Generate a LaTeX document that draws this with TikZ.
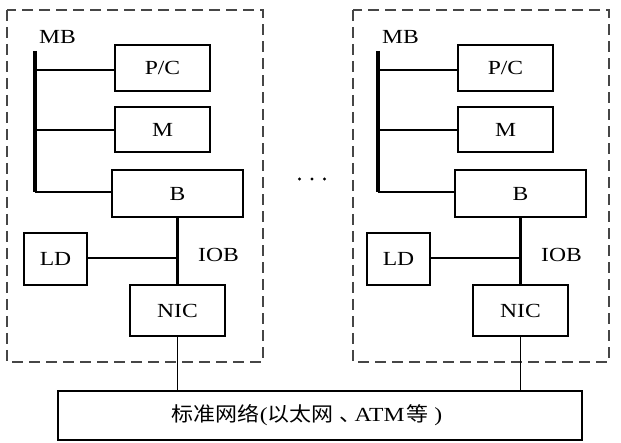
\documentclass[tikz,border=0pt]{standalone}
\usepackage{fontspec}
\setmainfont[FakeStretch=1.18]{Liberation Serif}
\newfontfamily\cjk[FakeStretch=1.1]{Noto Sans CJK SC}
\usepackage{xcolor}
\usetikzlibrary{positioning}
\definecolor{fr}{RGB}{70,70,70}

\begin{document}
\begin{tikzpicture}[x=1pt, y=-1pt,
    every node/.style={font=\fontsize{20}{24}\selectfont},
    blok/.style={draw, line width=1.6pt, inner sep=0pt, minimum height=46pt},
    bus/.style={line width=3.6pt},
    verb/.style={line width=1.5pt},
    kader/.style={draw=fr, line width=1.4pt, dash pattern=on 11pt off 6pt}]
    \useasboundingbox (0,0) rectangle (621,443);
    % twee knooppunten
    \foreach \k/\dx/\fx in {1/0/0, 2/343/346} {
        % kader
        \draw[kader] (7+\fx,10) rectangle (263+\fx,362);
        % kaarten
        \node[blok, minimum width=95pt] (pc\k) at (162.5+\dx,68) {P/C};
        \node[blok, minimum width=95pt, minimum height=45pt] (m\k) at (162.5+\dx,129.5) {M};
        \node[blok, minimum width=131pt, minimum height=47pt] (b\k) at (177.5+\dx,193.5) {B};
        \node[blok, minimum width=63pt, minimum height=52pt] (ld\k) at (55.5+\dx,259) {LD};
        \node[blok, minimum width=95pt, minimum height=51pt] (nic\k) at (177.5+\dx,310.5) {NIC};
        % geheugenbus
        \coordinate (mbt\k) at (35+\dx,51);
        \coordinate (mbb\k) at (35+\dx,192);
        \node[anchor=west, inner sep=0pt] (mb\k) at (39+\dx,37) {MB};
        \draw[bus] (mbt\k) -- (mbb\k);
        \draw[verb] (mbt\k |- 0,70) -- (pc\k.west |- 0,70);
        \draw[verb] (mbt\k |- 0,130) -- (m\k.west |- 0,130);
        \draw[verb] (mbb\k) -- (mbb\k -| b\k.west);
        % io-bus
        \draw[bus] (b\k.south) -- (nic\k.north);
        \node[anchor=west, inner sep=0pt] (iob\k) at (198+\dx,255) {IOB};
        \draw[verb] (ld\k.east |- 0,258) -- (b\k.south |- 0,258);
    }
    % netwerk
    \node[blok, minimum width=524pt, minimum height=49pt] (net) at (320,415.5)
        {{\cjk 标准网络}({\cjk 以太网}\hspace{6pt}{\cjk 、}\kern-7pt ATM\kern2pt{\cjk 等} )\kern26pt};
    \foreach \k in {1,2}
    \draw[verb] (nic\k.south) -- (nic\k.south |- net.north);
    % puntjes
    \foreach \x in {299.5,312,324.5}
    \fill (\x,179) circle (1.7pt);
\end{tikzpicture}
\end{document}
